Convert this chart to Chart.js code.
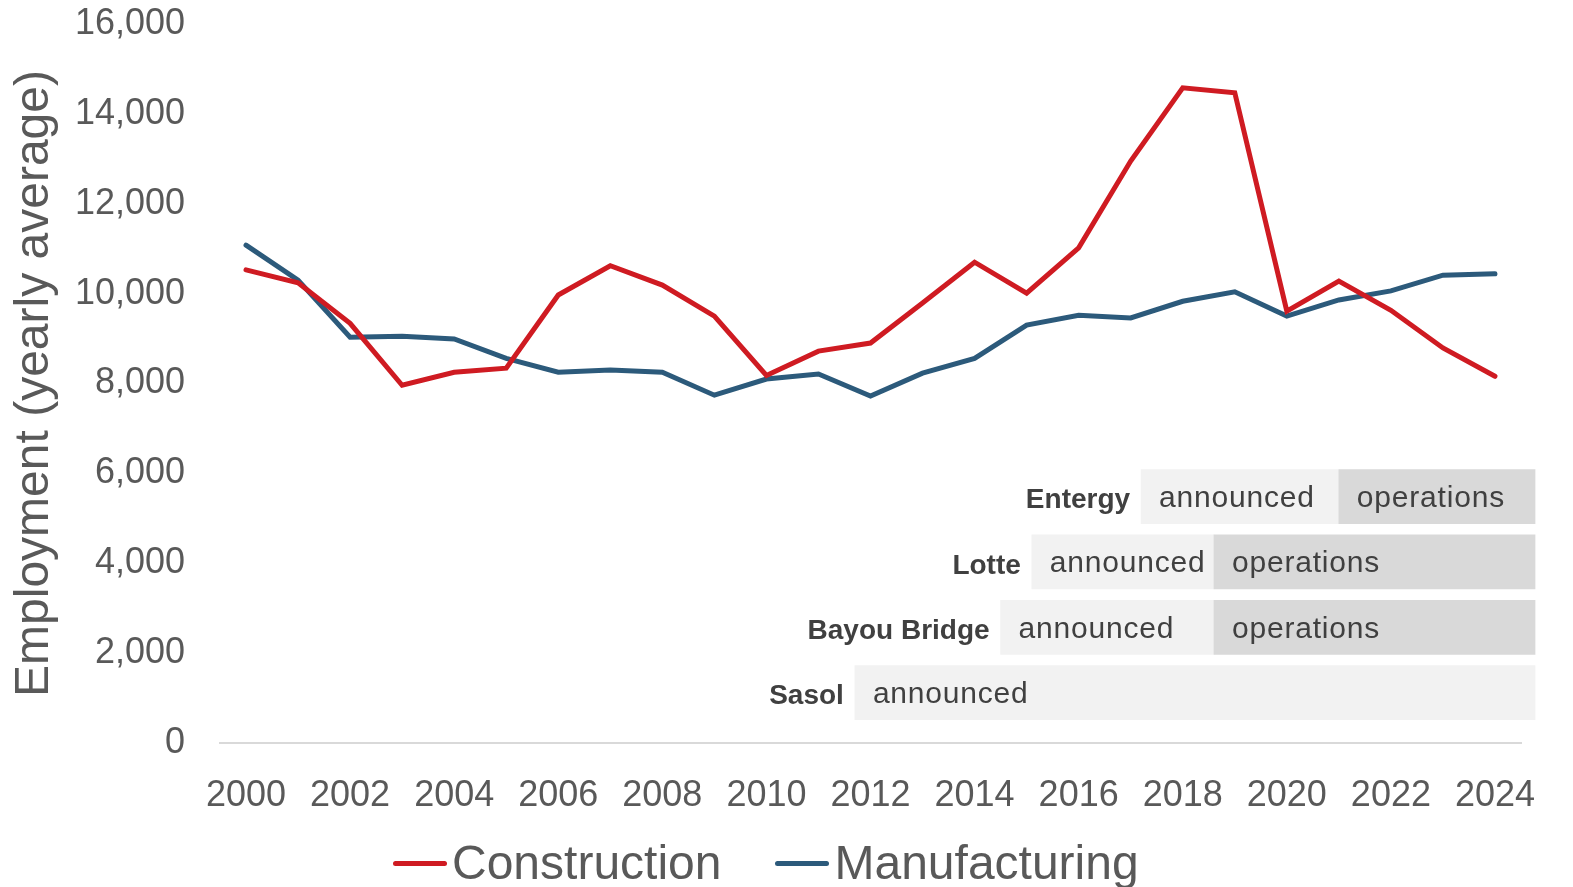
<!DOCTYPE html>
<html>
<head>
<meta charset="utf-8">
<script src="https://cdn.jsdelivr.net/npm/chart.js@4/dist/chart.umd.min.js"></script>
<style>
  body { margin: 0; background: #fff; overflow: hidden; }
  #wrap { position: relative; width: 1573px; height: 887px; }
  #legend {
    position: absolute; left: 393px; top: 834px;
    display: flex; align-items: center;
    font-family: "Liberation Sans", Arial, sans-serif;
    font-size: 48px; line-height: 58px; color: #595959;
    white-space: nowrap;
  }
  .item { display: flex; align-items: center; margin-right: 54px; }
  .swatch { width: 54px; height: 5px; border-radius: 3px; margin-right: 5px; }
</style>
</head>
<body>
<div id="wrap">
  <canvas id="chart"></canvas>
  <div id="legend"></div>
</div>
<script>
const years = ["2000","2001","2002","2003","2004","2005","2006","2007","2008","2009","2010","2011","2012",
  "2013","2014","2015","2016","2017","2018","2019","2020","2021","2022","2023","2024"];
const construction = [10530, 10240, 9340, 7960, 8250, 8340, 9970, 10620, 10190, 9500, 8180, 8720, 8900,
  9790, 10700, 10010, 11020, 12950, 14580, 14470, 9610, 10280, 9630, 8790, 8160];
const manufacturing = [11080, 10300, 9030, 9050, 8990, 8560, 8250, 8300, 8250, 7740, 8100, 8210, 7720,
  8230, 8560, 9300, 9520, 9460, 9830, 10040, 9500, 9860, 10060, 10410, 10440];

// project timeline rows, bottom to top
const projects = ["Sasol", "Bayou Bridge", "Lotte", "Entergy"];
const announcedStart = [2011.7, 2014.5, 2015.1, 2017.2];
const operationsStart = [null, 2018.6, 2018.6, 2021.0];
const projectEnd = [2024.77, 2024.77, 2024.77, 2024.77];

const yTicks = [0, 2000, 4000, 6000, 8000, 10000, 12000, 14000, 16000];

const FONT = '"Liberation Sans", Arial, sans-serif';
const RED = "#cf1b22";
const BLUE = "#2c5a7b";

const announcedData = projects.map((p, i) => ({
  y: i, x: [announcedStart[i], operationsStart[i] ?? projectEnd[i]]
}));
const operationsData = projects
  .map((p, i) => (operationsStart[i] == null ? null : { y: i, x: [operationsStart[i], projectEnd[i]] }))
  .filter((d) => d);

const barLabels = {
  id: "barLabels",
  afterDatasetsDraw(chart) {
    const ctx = chart.ctx;
    ctx.save();
    ctx.textBaseline = "middle";
    chart.data.datasets.forEach((ds, di) => {
      if (ds.type !== "bar") return;
      const meta = chart.getDatasetMeta(di);
      meta.data.forEach((el, i) => {
        const left = Math.min(el.x, el.base);
        ctx.fillStyle = "#404040";
        ctx.font = `30px ${FONT}`;
        ctx.letterSpacing = "0.8px";
        ctx.textAlign = "left";
        ctx.fillText(ds.label, left + 18, el.y + 2);
        if (ds.label === "announced") {
          ctx.font = `bold 28px ${FONT}`;
          ctx.letterSpacing = "0px";
          ctx.textAlign = "right";
          ctx.fillText(projects[ds.data[i].y], left - 11, el.y + 4);
        }
      });
    });
    ctx.restore();
  },
};

const ctx = document.getElementById("chart").getContext("2d");
new Chart(ctx, {
  type: "line",
  data: {
    labels: years,
    datasets: [
      {
        label: "Construction",
        data: construction,
        borderColor: RED,
        backgroundColor: RED,
        borderWidth: 5,
        borderCapStyle: "round",
        pointRadius: 0,
        tension: 0,
        order: 1,
      },
      {
        label: "Manufacturing",
        data: manufacturing,
        borderColor: BLUE,
        backgroundColor: BLUE,
        borderWidth: 5,
        borderCapStyle: "round",
        pointRadius: 0,
        tension: 0,
        order: 2,
      },
      {
        type: "bar",
        label: "announced",
        indexAxis: "y",
        data: announcedData,
        xAxisID: "xp",
        yAxisID: "yp",
        backgroundColor: "#f2f2f2",
        barThickness: 54,
        grouped: false,
        clip: false,
        order: 5,
      },
      {
        type: "bar",
        label: "operations",
        indexAxis: "y",
        data: operationsData,
        xAxisID: "xp",
        yAxisID: "yp",
        backgroundColor: "#d9d9d9",
        barThickness: 54,
        grouped: false,
        clip: false,
        order: 4,
      },
    ],
  },
  options: {
    responsive: true,
    maintainAspectRatio: false,
    animation: false,
    layout: { padding: { top: 24, right: 52, bottom: 0, left: 0 } },
    plugins: {
      legend: { display: false },
      tooltip: { enabled: false },
    },
    scales: {
      x: {
        type: "category",
        offset: true,
        grid: { display: false, drawTicks: false },
        border: { display: true, color: "#d9d9d9", width: 2 },
        ticks: {
          autoSkip: false,
          maxRotation: 0,
          padding: 31,
          color: "#595959",
          font: { family: FONT, size: 36 },
          callback: function (v, i) {
            return i % 2 === 0 ? this.getLabelForValue(v) : "";
          },
        },
        afterFit(scale) { scale.height = 144; },
      },
      y: {
        min: 0,
        max: 16000,
        grid: { display: false, drawTicks: false },
        border: { display: false },
        afterBuildTicks(scale) { scale.ticks = yTicks.map((v) => ({ value: v })); },
        ticks: {
          padding: 35,
          color: "#595959",
          font: { family: FONT, size: 36 },
          callback: (v) => v.toLocaleString("en-US"),
        },
        title: {
          display: true,
          text: "Employment (yearly average)",
          color: "#595959",
          font: { family: FONT, size: 48 },
          padding: { top: 6, bottom: 0 },
        },
        afterFit(scale) {
          scale.width = 220;
          scale.paddingTop = 21;
          scale.paddingBottom = 21;
        },
      },
      xp: { type: "linear", display: false, min: 1999.5, max: 2024.5 },
      yp: { type: "linear", display: false, offset: false, min: -0.77, max: 10.23 },
    },
  },
  plugins: [barLabels],
});

const legend = document.getElementById("legend");
[["Construction", RED], ["Manufacturing", BLUE]].forEach(([name, color]) => {
  const item = document.createElement("div");
  item.className = "item";
  item.innerHTML = `<span class="swatch" style="background:${color}"></span><span>${name}</span>`;
  legend.appendChild(item);
});
</script>
</body>
</html>
